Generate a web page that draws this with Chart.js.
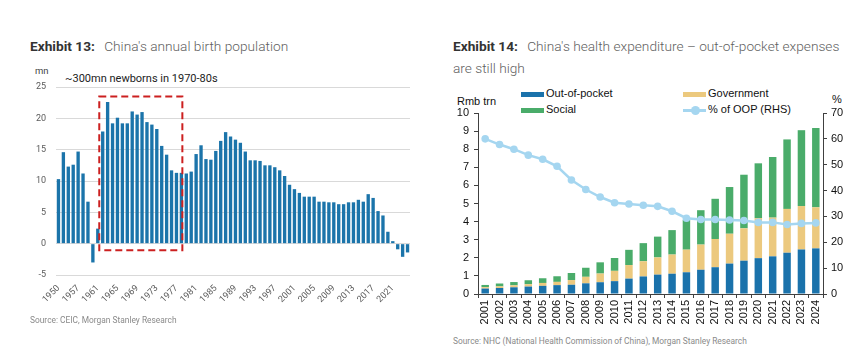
<!DOCTYPE html>
<html>
<head>
<meta charset="utf-8">
<script src="https://cdn.jsdelivr.net/npm/chart.js@4.4.1/dist/chart.umd.min.js"></script>
<style>
  html, body { margin:0; padding:0; background:#fff; }
  body { width:865px; height:355px; position:relative; overflow:hidden; font-family: Roboto, "Liberation Sans", Arial, sans-serif; }
  .abs { position:absolute; white-space:nowrap; }
  .title { font-size:13.7px; color:#5f5f5f; font-weight:300; line-height:22px; }
  .title b { color:#333; font-weight:700; margin-right:6px; }
  .src { font-size:8.4px; color:#8a8a8a; }
  .ar { font-family:"Liberation Sans", Arial, sans-serif; font-size:11px; color:#111; }
  .sw { position:absolute; width:23px; height:5px; }
</style>
</head>
<body>
<!-- Left exhibit -->
<div class="abs title" style="left:30px; top:35px;"><b>Exhibit 13:</b> China's annual birth population</div>
<div class="abs" style="left:35px; top:65px; font-size:9.5px; color:#444;">mn</div>
<div class="abs" style="left:65px; top:72px; font-size:11px; color:#222;">~300mn newborns in 1970-80s</div>
<div class="abs" style="left:0px; top:60px; width:430px; height:260px;"><canvas id="c1" width="430" height="260"></canvas></div>
<div class="abs src" style="left:30px; top:315px;">Source: CEIC, Morgan Stanley Research</div>

<!-- Right exhibit -->
<div class="abs title" style="left:453px; top:35px;"><b>Exhibit 14:</b> China's health expenditure – out-of-pocket expenses</div>
<div class="abs title" style="left:453px; top:57px;">are still high</div>
<div class="abs ar" style="left:457px; top:95px;">Rmb trn</div>
<div class="abs ar" style="left:832px; top:93px;">%</div>
<div class="sw" style="left:521px; top:92px; background:#1a72ab;"></div>
<div class="abs ar" style="left:546px; top:87px;">Out-of-pocket</div>
<div class="sw" style="left:683px; top:92px; background:#ecc97e;"></div>
<div class="abs ar" style="left:708px; top:87px;">Government</div>
<div class="sw" style="left:521px; top:108px; background:#4aac6a;"></div>
<div class="abs ar" style="left:546px; top:103px;">Social</div>
<div class="abs" style="left:683px; top:109px; width:23px; height:3px; background:#a5d6f0;"></div>
<div class="abs" style="left:691px; top:106px; width:9px; height:9px; border-radius:50%; background:#a5d6f0;"></div>
<div class="abs ar" style="left:708px; top:103px;">% of OOP (RHS)</div>
<div class="abs" style="left:440px; top:80px; width:425px; height:250px;"><canvas id="c2" width="425" height="250"></canvas></div>
<div class="abs src" style="left:453px; top:336px;">Source: NHC (National Health Commission of China), Morgan Stanley Research</div>

<script>
// ---------- Exhibit 13 data ----------
const birthYears = ['1950','1954','1955','1956','1957','1958','1959','1960','1961','1962','1963','1964','1965','1966','1967','1968','1969','1970','1971','1972','1973','1974','1975','1976','1977','1978','1979','1980','1981','1982','1983','1984','1985','1986','1987','1988','1989','1990','1991','1992','1993','1994','1995','1996','1997','1998','1999','2000','2001','2002','2003','2004','2005','2006','2007','2008','2009','2010','2011','2012','2013','2014','2015','2016','2017','2018','2019','2020','2021','2022','2023','2024'];
const birthValues = [10.3,14.6,12.3,12.6,14.7,11.2,6.7,-3.0,2.4,17.9,22.6,19.2,20.1,19.2,19.2,21.1,20.6,21.0,19.4,19.0,18.3,15.6,14.2,11.7,11.3,11.3,11.2,11.5,14.3,15.7,13.5,13.4,14.8,16.4,17.8,17.1,16.6,16.1,14.7,13.3,13.3,13.2,12.5,12.5,12.2,11.7,10.8,9.4,8.7,8.1,7.5,7.5,7.5,6.7,6.7,6.6,6.6,6.3,6.3,6.6,6.6,7.0,6.7,7.9,7.3,5.2,4.5,1.9,0.4,-0.9,-2.1,-1.4];
const birthTicks = [-5,0,5,10,15,20,25];
const highlight = { fromYear:'1961', toYear:'1978', top:23.5, bottom:-1.05 };

// ---------- Exhibit 14 data ----------
const healthYears = ['2001','2002','2003','2004','2005','2006','2007','2008','2009','2010','2011','2012','2013','2014','2015','2016','2017','2018','2019','2020','2021','2022','2023','2024'];
const outOfPocket = [0.30,0.33,0.37,0.41,0.45,0.49,0.51,0.59,0.65,0.71,0.85,0.97,1.07,1.12,1.20,1.34,1.48,1.68,1.84,1.98,2.08,2.28,2.46,2.52];
const government  = [0.08,0.09,0.11,0.13,0.16,0.18,0.26,0.36,0.48,0.57,0.75,0.84,0.95,1.06,1.25,1.39,1.56,1.65,1.79,2.21,2.14,2.42,2.40,2.27];
const social      = [0.12,0.16,0.18,0.22,0.26,0.31,0.39,0.50,0.62,0.71,0.84,1.00,1.15,1.35,1.65,1.90,2.22,2.58,2.96,3.03,3.35,3.84,4.19,4.38];
const oopShare    = [60.0,57.8,56.0,53.7,52.1,49.4,44.1,40.4,37.5,35.3,34.8,34.3,33.9,32.0,29.3,28.8,28.8,28.6,28.4,27.7,27.7,26.9,27.3,27.5];

const highlightPlugin = {
  id:'highlightBox',
  afterDatasetsDraw(chart){
    const xs = chart.scales.x, ys = chart.scales.y, ctx = chart.ctx;
    const i0 = birthYears.indexOf(highlight.fromYear), i1 = birthYears.indexOf(highlight.toYear);
    const step = xs.getPixelForValue(1) - xs.getPixelForValue(0);
    const l = xs.getPixelForValue(i0) + step*0.3, r = xs.getPixelForValue(i1) + step*0.2;
    const t = ys.getPixelForValue(highlight.top), b = ys.getPixelForValue(highlight.bottom);
    ctx.save();
    ctx.strokeStyle = '#cc2020'; ctx.lineWidth = 2; ctx.setLineDash([7,4]);
    ctx.strokeRect(l, t, r-l, b-t);
    ctx.restore();
  }
};

new Chart(document.getElementById('c1'), {
  type:'bar',
  data:{ labels:birthYears, datasets:[{ data:birthValues, backgroundColor:'#1b74aa', barPercentage:0.68, categoryPercentage:1 }]},
  options:{
    responsive:false, animation:false,
    layout:{ padding:{ left:0, right:20, top:27, bottom:0 } },
    plugins:{ legend:{display:false}, tooltip:{enabled:false} },
    scales:{
      x:{
        grid:{ display:false, drawTicks:false }, border:{ display:false },
        ticks:{ autoSkip:false, minRotation:45, maxRotation:45, padding:8, color:'#5a5a5a', font:{ family:'Roboto', size:9 },
          callback(v,i){ return i % 4 === 0 ? this.getLabelForValue(v) : ''; } },
        afterFit(s){ s.height = 45; }
      },
      y:{
        min:-5, max:25,
        afterBuildTicks(s){ s.ticks = birthTicks.map(v => ({value:v})); },
        grid:{ color:'#d9d9d9', lineWidth:1, drawTicks:false }, border:{ display:false },
        ticks:{ padding:10, color:'#5a5a5a', font:{ family:'Roboto', size:9 } },
        afterFit(s){ s.width = 56; }
      }
    }
  },
  plugins:[highlightPlugin]
});

const axisCol = '#404040';
new Chart(document.getElementById('c2'), {
  type:'bar',
  data:{ labels:healthYears, datasets:[
    { type:'line', label:'% of OOP (RHS)', data:oopShare, yAxisID:'y1', order:0, borderColor:'#a5d6f0', borderWidth:2.5, pointRadius:3.8, pointBackgroundColor:'#a5d6f0', pointBorderWidth:0, tension:0 },
    { label:'Out-of-pocket', data:outOfPocket, backgroundColor:'#1a72ab', stack:'s', order:1, barPercentage:0.52, categoryPercentage:1 },
    { label:'Government', data:government, backgroundColor:'#ecc97e', stack:'s', order:1, barPercentage:0.52, categoryPercentage:1 },
    { label:'Social', data:social, backgroundColor:'#4aac6a', stack:'s', order:1, barPercentage:0.52, categoryPercentage:1 }
  ]},
  options:{
    responsive:false, animation:false,
    layout:{ padding:{ left:0, right:0, top:33, bottom:0 } },
    plugins:{ legend:{display:false}, tooltip:{enabled:false} },
    scales:{
      x:{
        stacked:true,
        grid:{ drawOnChartArea:false, drawTicks:true, tickLength:4, offset:true, color:axisCol },
        border:{ display:true, color:axisCol },
        ticks:{ autoSkip:false, minRotation:90, maxRotation:90, padding:2, color:'#111', font:{ family:'Liberation Sans', size:11 } },
        afterFit(s){ s.height = 36; }
      },
      y:{
        stacked:true, position:'left', min:0, max:10,
        ticks:{ stepSize:1, padding:5, color:'#111', font:{ family:'Liberation Sans', size:11 } },
        grid:{ drawOnChartArea:false, drawTicks:true, tickLength:4, color:axisCol },
        border:{ display:true, color:axisCol },
        afterFit(s){ s.width = 38; }
      },
      y1:{
        position:'right', min:0, max:70,
        ticks:{ stepSize:10, padding:4, color:'#111', font:{ family:'Liberation Sans', size:11 } },
        grid:{ drawOnChartArea:false, drawTicks:true, tickLength:4, color:axisCol },
        border:{ display:true, color:axisCol },
        afterFit(s){ s.width = 42; }
      }
    }
  }
});
</script>
</body>
</html>
